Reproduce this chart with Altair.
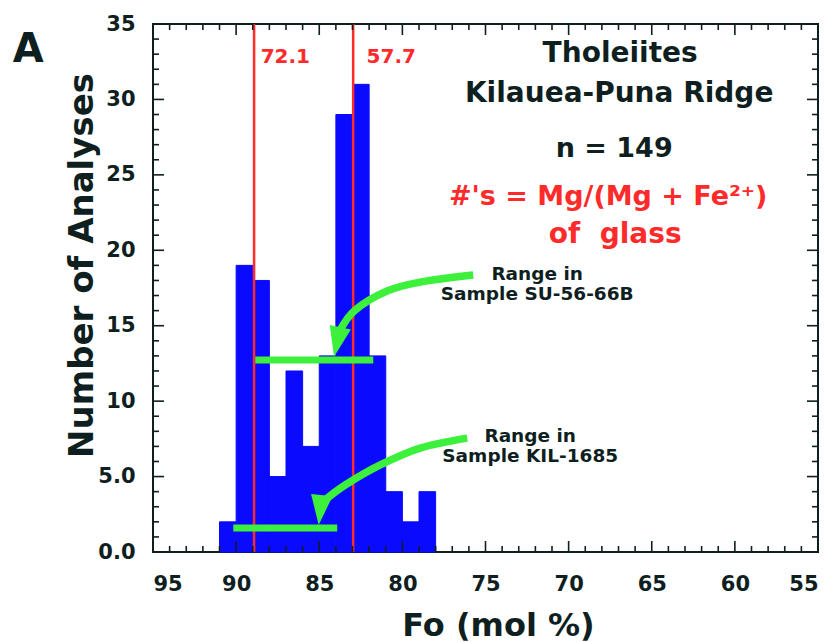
import altair as alt
import pandas as pd

# ---- data ----
bin_start = [91, 90, 89, 88, 87, 86, 85, 84, 83, 82, 81, 80, 79]
bin_end = [90, 89, 88, 87, 86, 85, 84, 83, 82, 81, 80, 79, 78]
counts = [2, 19, 18, 5, 12, 7, 13, 29, 31, 13, 4, 2, 4]

glass_fo = [88.92, 82.96]           # red vertical lines (equilibrium Fo)
glass_labels = ["72.1", "57.7"]
glass_label_fo = [87.04, 80.67]
glass_label_n = [32.4, 32.4]

su_range = [88.85, 81.75]           # Range in Sample SU-56-66B
su_level = [12.72, 12.72]
kil_range = [90.17, 83.92]          # Range in Sample KIL-1685
kil_level = [1.59, 1.59]

su_arrow_fo = [75.74, 78.93, 80.92, 82.84, 83.74]
su_arrow_n = [18.36, 17.89, 17.30, 16.04, 14.71]
su_head = [83.92, 13.92]
kil_arrow_fo = [76.10, 78.93, 81.33, 83.44, 84.64]
kil_arrow_n = [7.55, 6.89, 5.77, 4.44, 3.45]
kil_head = [84.94, 2.78]

x_tick_labels = [95, 90, 85, 80, 75, 70, 65, 60, 55]
y_tick_labels = [0, 5, 10, 15, 20, 25, 30, 35]
x_minor = [v for v in range(55, 96) if v % 5 != 0]
y_minor = [v for v in range(0, 36) if v % 5 != 0]

# ---- styles ----
FONT = "DejaVu Sans"
DARK = "#0f1f1f"
RED = "#ff2a2a"
GREEN = "#3cf03c"
BLUE = "#0a0aff"
HEAD = "M-0.72,-1L0.72,-1L0,1Z"

xs = alt.Scale(domain=[55, 95], reverse=True, nice=False, zero=False)
ys = alt.Scale(domain=[0, 35], nice=False, zero=False)

x_axis = alt.Axis(values=x_tick_labels, format="d", title="Fo (mol %)",
                  labelBaseline="alphabetic", labelPadding=38,
                  titleX=345, titleY=83, titleBaseline="alphabetic",
                  titleAlign="center", titleFontSize=32)
y_axis = alt.Axis(values=y_tick_labels, title="Number of Analyses",
                  labelExpr="datum.value < 10 ? format(datum.value, '.1f') : format(datum.value, 'd')",
                  labelPadding=18, titleX=-61, titleY=241,
                  titleBaseline="alphabetic", titleAlign="center",
                  titleAngle=270, titleFontSize=34)


def X(field):
    return alt.X(field, type="quantitative", scale=xs, axis=x_axis)


def Y(field):
    return alt.Y(field, type="quantitative", scale=ys, axis=y_axis)


bars_df = pd.DataFrame({"start": bin_start, "end": bin_end, "count": counts})
bars = alt.Chart(bars_df).mark_rect(color=BLUE, stroke=BLUE, strokeWidth=1).encode(
    x=X("start"), x2="end:Q", y=Y("count"), y2=alt.Y2(datum=0),
)

red_df = pd.DataFrame({"fo": glass_fo})
red_lines = alt.Chart(red_df).mark_rule(color=RED, strokeWidth=2.5).encode(
    x=X("fo"), y=alt.YDatum(0, scale=ys, axis=y_axis), y2=alt.Y2Datum(35)
)

red_lab_df = pd.DataFrame({"fo": glass_label_fo, "n": glass_label_n, "t": glass_labels})
red_labels = alt.Chart(red_lab_df).mark_text(
    font=FONT, fontWeight="bold", fontSize=20, color=RED, baseline="alphabetic", align="center"
).encode(x=X("fo"), y=Y("n"), text="t:N")

range_df = pd.DataFrame({"a": [su_range[0], kil_range[0]], "b": [su_range[1], kil_range[1]],
                         "n": [su_level[0], kil_level[0]]})
range_lines = alt.Chart(range_df).mark_rule(color=GREEN, strokeWidth=7).encode(
    x=X("a"), x2="b:Q", y=Y("n")
)

arr_df = pd.DataFrame({
    "fo": su_arrow_fo + kil_arrow_fo,
    "n": su_arrow_n + kil_arrow_n,
    "i": list(range(len(su_arrow_fo))) + list(range(len(kil_arrow_fo))),
    "g": ["su"] * len(su_arrow_fo) + ["kil"] * len(kil_arrow_fo),
})
arrows = alt.Chart(arr_df).mark_line(color=GREEN, strokeWidth=7.5, interpolate="cardinal").encode(
    x=X("fo"), y=Y("n"), detail="g:N", order="i:Q"
)

head_su = alt.Chart(pd.DataFrame({"fo": [su_head[0]], "n": [su_head[1]]})).mark_point(
    shape=HEAD, filled=True, size=900, color=GREEN, opacity=1, angle=12
).encode(x=X("fo"), y=Y("n"))
head_kil = alt.Chart(pd.DataFrame({"fo": [kil_head[0]], "n": [kil_head[1]]})).mark_point(
    shape=HEAD, filled=True, size=900, color=GREEN, opacity=1, angle=6
).encode(x=X("fo"), y=Y("n"))


def label(txt, fo, n, size, color=DARK, align="center"):
    df = pd.DataFrame({"fo": [fo], "n": [n], "t": [txt]})
    return alt.Chart(df).mark_text(
        font=FONT, fontWeight="bold", fontSize=size, color=color,
        baseline="alphabetic", align=align
    ).encode(x=X("fo"), y=Y("n"), text="t:N")


texts = [
    label("A", 102.5, 32.48, 40),
    label("Tholeiites", 66.9, 32.47, 28),
    label("Kilauea-Puna Ridge", 66.96, 29.82, 28),
    label("n = 149", 67.26, 26.18, 27),
    label("#'s = Mg/(Mg + Fe²⁺)", 67.62, 22.99, 27, RED),
    label("of\u00a0\u00a0glass", 67.2, 20.48, 28, RED),
    label("Range in", 71.89, 18.02, 18.5),
    label("Sample SU-56-66B", 71.89, 16.7, 18.5),
    label("Range in", 72.31, 7.29, 18.5),
    label("Sample KIL-1685", 72.31, 5.96, 18.5),
]


def xticks(vals, length, edge):
    return alt.Chart(pd.DataFrame({"v": vals})).mark_tick(
        orient="vertical", size=2 * length, thickness=1.6, color=DARK, clip=True, opacity=1
    ).encode(x=X("v"), y=alt.YDatum(edge, scale=ys, axis=y_axis))


def yticks(vals, length, edge):
    return alt.Chart(pd.DataFrame({"v": vals})).mark_tick(
        orient="horizontal", size=2 * length, thickness=1.6, color=DARK, clip=True, opacity=1
    ).encode(y=Y("v"), x=alt.XDatum(edge, scale=xs, axis=x_axis))


ticks = [
    xticks(x_minor, 6, 0), xticks(x_tick_labels, 11, 0),
    xticks(x_minor, 6, 35), xticks(x_tick_labels, 11, 35),
    yticks(y_minor, 6, 95), yticks(y_tick_labels, 11, 95),
    yticks(y_minor, 6, 55), yticks(y_tick_labels, 11, 55),
]

chart = alt.layer(
    bars, red_lines, *ticks, range_lines, arrows, head_su, head_kil, red_labels, *texts
).properties(
    width=665, height=528,
    autosize=alt.AutoSizeParams(type="none"),
    padding={"left": 153, "top": 24, "right": 16, "bottom": 90},
    background="white",
).configure_view(
    stroke=DARK, strokeWidth=2
).configure_axis(
    labelFont=FONT, labelFontWeight="bold", labelFontSize=21, labelColor=DARK,
    titleFont=FONT, titleFontWeight="bold", titleColor=DARK,
    domain=False, ticks=False, tickSize=0, grid=False,
)

chart.save("out.html", embed_options={"renderer": "svg", "actions": False})
